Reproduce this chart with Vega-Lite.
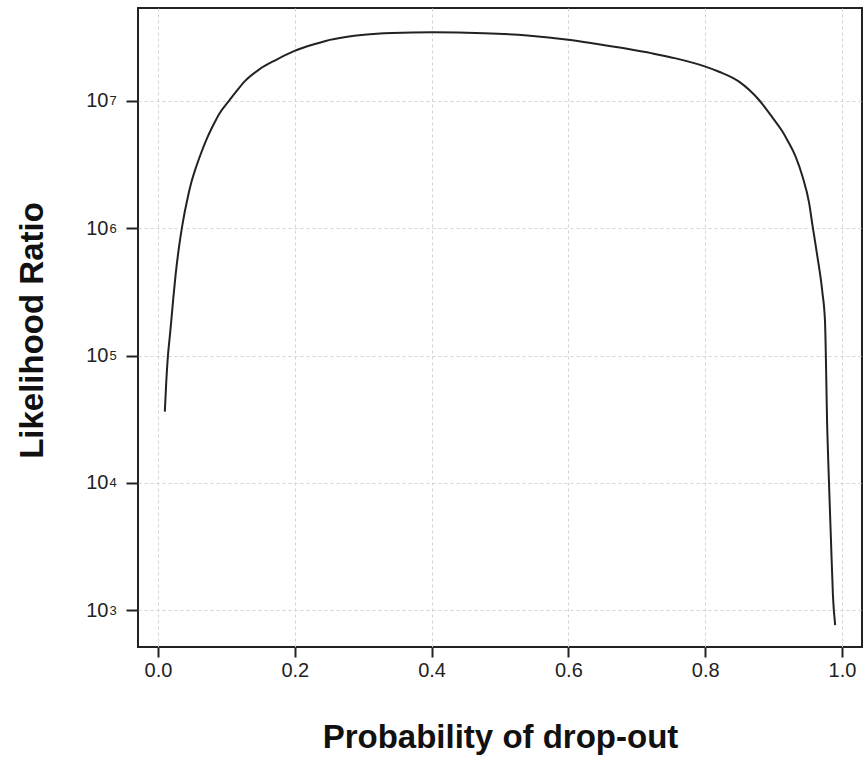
{
  "$schema": "https://vega.github.io/schema/vega-lite/v6.json",
  "width": 724,
  "height": 639,
  "autosize": "none",
  "padding": {"left": 138, "top": 8, "right": 4, "bottom": 117},
  "background": "white",
  "config": {
    "view": {"stroke": "#222222", "strokeWidth": 2},
    "font": "Liberation Sans"
  },
  "data": {
    "values": [
      {"p": 0.01, "lr": 36300},
      {"p": 0.012, "lr": 60300},
      {"p": 0.0146, "lr": 100000},
      {"p": 0.0171, "lr": 138000},
      {"p": 0.0194, "lr": 186000},
      {"p": 0.0224, "lr": 282000},
      {"p": 0.0259, "lr": 437000},
      {"p": 0.0307, "lr": 708000},
      {"p": 0.0355, "lr": 1047000},
      {"p": 0.0443, "lr": 1820000},
      {"p": 0.0493, "lr": 2344000},
      {"p": 0.0551, "lr": 2951000},
      {"p": 0.0624, "lr": 3802000},
      {"p": 0.0721, "lr": 5129000},
      {"p": 0.0819, "lr": 6607000},
      {"p": 0.0892, "lr": 7852000},
      {"p": 0.1038, "lr": 10000000},
      {"p": 0.1184, "lr": 12590000},
      {"p": 0.1282, "lr": 14450000},
      {"p": 0.1477, "lr": 17580000},
      {"p": 0.1721, "lr": 20890000},
      {"p": 0.1988, "lr": 24550000},
      {"p": 0.2256, "lr": 27540000},
      {"p": 0.2452, "lr": 29510000},
      {"p": 0.2744, "lr": 31620000},
      {"p": 0.3012, "lr": 32960000},
      {"p": 0.3425, "lr": 34040000},
      {"p": 0.401, "lr": 34510000},
      {"p": 0.4766, "lr": 33960000},
      {"p": 0.54, "lr": 32580000},
      {"p": 0.5998, "lr": 30200000},
      {"p": 0.6399, "lr": 28050000},
      {"p": 0.6838, "lr": 25700000},
      {"p": 0.7227, "lr": 23550000},
      {"p": 0.7569, "lr": 21530000},
      {"p": 0.7982, "lr": 18710000},
      {"p": 0.8202, "lr": 16900000},
      {"p": 0.8494, "lr": 14130000},
      {"p": 0.8787, "lr": 10140000},
      {"p": 0.8981, "lr": 7413000},
      {"p": 0.9127, "lr": 5754000},
      {"p": 0.9201, "lr": 4898000},
      {"p": 0.9323, "lr": 3631000},
      {"p": 0.942, "lr": 2570000},
      {"p": 0.9518, "lr": 1585000},
      {"p": 0.9566, "lr": 1072000},
      {"p": 0.9639, "lr": 602600},
      {"p": 0.9712, "lr": 316200},
      {"p": 0.9751, "lr": 186200},
      {"p": 0.9785, "lr": 25350},
      {"p": 0.981, "lr": 9817},
      {"p": 0.9839, "lr": 3467},
      {"p": 0.9868, "lr": 1279},
      {"p": 0.99, "lr": 766}
    ]
  },
  "layer": [
    {
      "mark": {"type": "line", "color": "#222222", "strokeWidth": 2, "clip": true, "interpolate": "monotone"},
      "encoding": {
        "x": {
          "field": "p",
          "type": "quantitative",
          "scale": {"domain": [-0.0292, 1.0292], "nice": false, "zero": false},
          "axis": {
            "values": [0, 0.2, 0.4, 0.6, 0.8, 1.0],
            "format": ".1f",
            "title": "Probability of drop-out",
            "grid": true,
            "gridColor": "#d3d3d3",
            "gridDash": [3, 3],
            "gridWidth": 1,
            "domain": false,
            "tickColor": "#222222",
            "tickSize": 10,
            "tickWidth": 2,
            "labelFontSize": 20,
            "labelPadding": 3,
            "labelColor": "#222222",
            "labelFlush": false,
            "titleFontSize": 33,
            "titleFontWeight": "bold",
            "titleColor": "#111111",
            "titleY": 100,
            "titleBaseline": "alphabetic"
          }
        },
        "y": {
          "field": "lr",
          "type": "quantitative",
          "scale": {"type": "log", "domain": [515, 53500000], "nice": false},
          "axis": {
            "orient": "left",
            "values": [1000, 10000, 100000, 1000000, 10000000],
            "labelExpr": "'10'",
            "title": "Likelihood Ratio",
            "grid": true,
            "gridColor": "#d3d3d3",
            "gridDash": [3, 3],
            "gridWidth": 1,
            "domain": false,
            "tickColor": "#222222",
            "tickSize": 12,
            "tickWidth": 2,
            "labelFontSize": 20,
            "labelPadding": 18,
            "labelDy": 5,
            "labelColor": "#222222",
            "labelFlush": false,
            "titleFontSize": 33,
            "titleFontWeight": "bold",
            "titleColor": "#111111",
            "titleX": -106,
            "titleY": 322,
            "titleAngle": -90,
            "titleBaseline": "middle",
            "titleAlign": "center"
          }
        }
      }
    },
    {
      "mark": {"type": "line", "opacity": 0},
      "encoding": {
        "x": {"field": "p", "type": "quantitative", "axis": {"title": "Probability of drop-out"}},
        "y": {
          "field": "lr",
          "type": "quantitative",
          "scale": {"type": "log", "domain": [515, 53500000], "nice": false},
          "axis": {
            "orient": "left",
            "values": [1000, 10000, 100000, 1000000, 10000000],
            "labelExpr": "format(round(log(datum.value)/LN10), 'd')",
            "title": null,
            "grid": false,
            "ticks": false,
            "domain": false,
            "labelFontSize": 13,
            "labelAlign": "left",
            "labelPadding": 29,
            "labelDy": -10,
            "labelColor": "#222222",
            "labelFlush": false
          }
        }
      }
    }
  ],
  "resolve": {"axis": {"y": "independent"}}
}
